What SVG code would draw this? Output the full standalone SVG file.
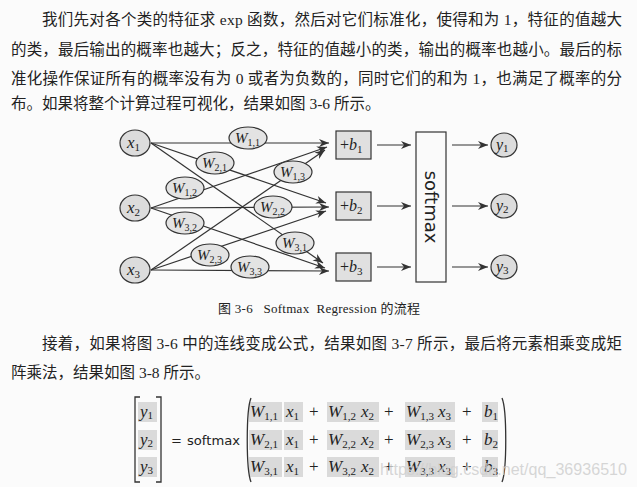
<svg xmlns="http://www.w3.org/2000/svg" width="637" height="487" viewBox="0 0 637 487">
<defs>
<style>
.body{font-family:"Liberation Serif","Noto Sans CJK SC",serif;font-size:15.5px;fill:#222}
.cap{font-family:"Liberation Serif","Noto Sans CJK SC",serif;font-size:13px;fill:#222}
.ln{stroke:#333;stroke-width:1.2;fill:none}
.nd{fill:#dcdcdc;stroke:#333;stroke-width:1.2}
.w{fill:#e3e3e3;stroke:#333;stroke-width:1.2}
.bx{fill:#e0e0e0;stroke:#333;stroke-width:1.2}
.sm{fill:#fafafa;stroke:#333;stroke-width:1.2}
.m{font-family:"Liberation Serif",serif;font-style:italic;fill:#222}
.up{font-style:normal}
.hl{fill:#dadada}
.br{stroke:#333;stroke-width:1.3;fill:none}
.sf{font-family:"DejaVu Sans",sans-serif;fill:#222}
</style>
<marker id="ah" viewBox="0 0 10 8" refX="10" refY="4" markerWidth="11" markerHeight="8" markerUnits="userSpaceOnUse" orient="auto">
<path d="M0,0 L10,4 L0,8 L3,4 z" fill="#333"/>
</marker>
</defs>
<rect width="637" height="487" fill="#fbfbfb"/>

<g id="paragraph1" class="body">
<text x="42" y="25" textLength="580" lengthAdjust="spacing">我们先对各个类的特征求 exp 函数，然后对它们标准化，使得和为 1，特征的值越大</text>
<text x="11" y="55" textLength="611" lengthAdjust="spacing">的类，最后输出的概率也越大；反之，特征的值越小的类，输出的概率也越小。最后的标</text>
<text x="11" y="84" textLength="611" lengthAdjust="spacing">准化操作保证所有的概率没有为 0 或者为负数的，同时它们的和为 1，也满足了概率的分</text>
<text x="11" y="109">布。如果将整个计算过程可视化，结果如图 3-6 所示。</text>
</g>

<g id="connectors">
<path class="ln" marker-end="url(#ah)" d="M151,143 L329,143"/>
<path class="ln" marker-end="url(#ah)" d="M151,143 L326,203"/>
<path class="ln" marker-end="url(#ah)" d="M151,143 L323,263"/>
<path class="ln" marker-end="url(#ah)" d="M151,208 L327,147"/>
<path class="ln" marker-end="url(#ah)" d="M151,208 L329,207"/>
<path class="ln" marker-end="url(#ah)" d="M151,208 L325,268"/>
<path class="ln" marker-end="url(#ah)" d="M151,270 L325,150"/>
<path class="ln" marker-end="url(#ah)" d="M151,270 L326,211"/>
<path class="ln" marker-end="url(#ah)" d="M151,270 L329,271"/>
<path class="ln" marker-end="url(#ah)" d="M377,145 L411,145"/>
<path class="ln" marker-end="url(#ah)" d="M377,206 L411,206"/>
<path class="ln" marker-end="url(#ah)" d="M377,267 L411,267"/>
<path class="ln" marker-end="url(#ah)" d="M452,145 L488,145"/>
<path class="ln" marker-end="url(#ah)" d="M452,206 L488,206"/>
<path class="ln" marker-end="url(#ah)" d="M452,267 L488,267"/>
</g>

<g id="x1"><ellipse class="nd" cx="135" cy="143" rx="15" ry="13"/><text class="m" x="127" y="148" font-size="17">x<tspan class="up" font-size="11" dy="3">1</tspan></text></g>
<g id="x2"><ellipse class="nd" cx="135" cy="208" rx="15" ry="13"/><text class="m" x="127" y="213" font-size="17">x<tspan class="up" font-size="11" dy="3">2</tspan></text></g>
<g id="x3"><ellipse class="nd" cx="135" cy="270" rx="15" ry="13"/><text class="m" x="127" y="275" font-size="17">x<tspan class="up" font-size="11" dy="3">3</tspan></text></g>

<g id="W11"><ellipse class="w" cx="248" cy="138" rx="19" ry="11"/><text class="m" x="235" y="143" font-size="15">W<tspan class="up" font-size="10" dy="3">1,1</tspan></text></g>
<g id="W21"><ellipse class="w" cx="215" cy="163" rx="19" ry="11"/><text class="m" x="202" y="168" font-size="15">W<tspan class="up" font-size="10" dy="3">2,1</tspan></text></g>
<g id="W12"><ellipse class="w" cx="185" cy="188" rx="19" ry="11"/><text class="m" x="172" y="193" font-size="15">W<tspan class="up" font-size="10" dy="3">1,2</tspan></text></g>
<g id="W13"><ellipse class="w" cx="293" cy="172" rx="19" ry="11"/><text class="m" x="280" y="177" font-size="15">W<tspan class="up" font-size="10" dy="3">1,3</tspan></text></g>
<g id="W22"><ellipse class="w" cx="273" cy="207" rx="19" ry="11"/><text class="m" x="260" y="212" font-size="15">W<tspan class="up" font-size="10" dy="3">2,2</tspan></text></g>
<g id="W32"><ellipse class="w" cx="185" cy="223" rx="19" ry="11"/><text class="m" x="172" y="228" font-size="15">W<tspan class="up" font-size="10" dy="3">3,2</tspan></text></g>
<g id="W31"><ellipse class="w" cx="295" cy="243" rx="19" ry="11"/><text class="m" x="282" y="248" font-size="15">W<tspan class="up" font-size="10" dy="3">3,1</tspan></text></g>
<g id="W23"><ellipse class="w" cx="210" cy="255" rx="19" ry="11"/><text class="m" x="197" y="260" font-size="15">W<tspan class="up" font-size="10" dy="3">2,3</tspan></text></g>
<g id="W33"><ellipse class="w" cx="250" cy="267" rx="19" ry="11"/><text class="m" x="237" y="272" font-size="15">W<tspan class="up" font-size="10" dy="3">3,3</tspan></text></g>

<g id="b1"><rect class="bx" x="336" y="131" width="35" height="28"/><text class="m" x="340" y="150" font-size="16"><tspan class="up">+</tspan>b<tspan class="up" font-size="11" dy="3">1</tspan></text></g>
<g id="b2"><rect class="bx" x="336" y="192" width="35" height="28"/><text class="m" x="340" y="211" font-size="16"><tspan class="up">+</tspan>b<tspan class="up" font-size="11" dy="3">2</tspan></text></g>
<g id="b3"><rect class="bx" x="336" y="253" width="35" height="28"/><text class="m" x="340" y="272" font-size="16"><tspan class="up">+</tspan>b<tspan class="up" font-size="11" dy="3">3</tspan></text></g>

<g id="softmax"><rect class="sm" x="416" y="132" width="30" height="150"/><text class="sf" transform="translate(431,207) rotate(90)" text-anchor="middle" dominant-baseline="central" font-size="18">softmax</text></g>

<g id="y1"><ellipse class="nd" cx="504" cy="145" rx="13" ry="12"/><text class="m" x="496" y="150" font-size="16">y<tspan class="up" font-size="11" dy="2">1</tspan></text></g>
<g id="y2"><ellipse class="nd" cx="504" cy="206" rx="13" ry="12"/><text class="m" x="496" y="211" font-size="16">y<tspan class="up" font-size="11" dy="2">2</tspan></text></g>
<g id="y3"><ellipse class="nd" cx="504" cy="267" rx="13" ry="12"/><text class="m" x="496" y="272" font-size="16">y<tspan class="up" font-size="11" dy="2">3</tspan></text></g>

<g id="caption"><text class="cap" x="218" y="313" xml:space="preserve" textLength="202" lengthAdjust="spacing">图 3-6   Softmax  Regression 的流程</text></g>

<g id="paragraph2" class="body">
<text x="42" y="349" textLength="580" lengthAdjust="spacing">接着，如果将图 3-6 中的连线变成公式，结果如图 3-7 所示，最后将元素相乘变成矩</text>
<text x="11" y="378">阵乘法，结果如图 3-8 所示。</text>
</g>

<g id="equation">
<g class="hl">
<rect x="138" y="402" width="19" height="20"/><rect x="138" y="430" width="19" height="20"/><rect x="138" y="457" width="19" height="20"/>
<rect x="249" y="402" width="33" height="20"/><rect x="284" y="402" width="19" height="20"/><rect x="327" y="402" width="32" height="20"/><rect x="359" y="402" width="20" height="20"/><rect x="405" y="402" width="32" height="20"/><rect x="437" y="402" width="18" height="20"/><rect x="482" y="402" width="16" height="20"/>
<rect x="249" y="430" width="33" height="20"/><rect x="284" y="430" width="19" height="20"/><rect x="327" y="430" width="32" height="20"/><rect x="359" y="430" width="20" height="20"/><rect x="405" y="430" width="32" height="20"/><rect x="437" y="430" width="18" height="20"/><rect x="482" y="430" width="16" height="20"/>
<rect x="249" y="457" width="33" height="20"/><rect x="284" y="457" width="19" height="20"/><rect x="327" y="457" width="32" height="20"/><rect x="359" y="457" width="20" height="20"/><rect x="405" y="457" width="32" height="20"/><rect x="437" y="457" width="18" height="20"/><rect x="482" y="457" width="16" height="20"/>
</g>
<path class="br" d="M140,397 L135,397 L135,482 L140,482"/>
<path class="br" d="M156,397 L161,397 L161,482 L156,482"/>
<path class="br" d="M251,398 C246,410 246,470 251,482"/>
<path class="br" d="M502,398 C507,410 507,470 502,482"/>
<text class="m" x="140" y="417" font-size="17">y<tspan class="up" font-size="11" dy="2">1</tspan></text>
<text class="m" x="140" y="445" font-size="17">y<tspan class="up" font-size="11" dy="2">2</tspan></text>
<text class="m" x="140" y="472" font-size="17">y<tspan class="up" font-size="11" dy="2">3</tspan></text>
<text class="sf" x="171" y="445" font-size="13">=<tspan x="187" textLength="53" lengthAdjust="spacingAndGlyphs">softmax</tspan></text>
<g font-size="17">
<text class="m" x="250" y="417">W<tspan class="up" font-size="11" dy="3">1,1</tspan><tspan x="286" dy="-3">x</tspan><tspan class="up" font-size="11" dy="3">1</tspan><tspan class="up" x="309" dy="-3">+</tspan><tspan x="328">W</tspan><tspan class="up" font-size="11" dy="3">1,2</tspan><tspan x="361" dy="-3">x</tspan><tspan class="up" font-size="11" dy="3">2</tspan><tspan class="up" x="384" dy="-3">+</tspan><tspan x="406">W</tspan><tspan class="up" font-size="11" dy="3">1,3</tspan><tspan x="438" dy="-3">x</tspan><tspan class="up" font-size="11" dy="3">3</tspan><tspan class="up" x="462" dy="-3">+</tspan><tspan x="484">b</tspan><tspan class="up" font-size="11" dy="3">1</tspan></text>
<text class="m" x="250" y="445">W<tspan class="up" font-size="11" dy="3">2,1</tspan><tspan x="286" dy="-3">x</tspan><tspan class="up" font-size="11" dy="3">1</tspan><tspan class="up" x="309" dy="-3">+</tspan><tspan x="328">W</tspan><tspan class="up" font-size="11" dy="3">2,2</tspan><tspan x="361" dy="-3">x</tspan><tspan class="up" font-size="11" dy="3">2</tspan><tspan class="up" x="384" dy="-3">+</tspan><tspan x="406">W</tspan><tspan class="up" font-size="11" dy="3">2,3</tspan><tspan x="438" dy="-3">x</tspan><tspan class="up" font-size="11" dy="3">3</tspan><tspan class="up" x="462" dy="-3">+</tspan><tspan x="484">b</tspan><tspan class="up" font-size="11" dy="3">2</tspan></text>
<text class="m" x="250" y="472">W<tspan class="up" font-size="11" dy="3">3,1</tspan><tspan x="286" dy="-3">x</tspan><tspan class="up" font-size="11" dy="3">1</tspan><tspan class="up" x="309" dy="-3">+</tspan><tspan x="328">W</tspan><tspan class="up" font-size="11" dy="3">3,2</tspan><tspan x="361" dy="-3">x</tspan><tspan class="up" font-size="11" dy="3">2</tspan><tspan class="up" x="384" dy="-3">+</tspan><tspan x="406">W</tspan><tspan class="up" font-size="11" dy="3">3,3</tspan><tspan x="438" dy="-3">x</tspan><tspan class="up" font-size="11" dy="3">3</tspan><tspan class="up" x="462" dy="-3">+</tspan><tspan x="484">b</tspan><tspan class="up" font-size="11" dy="3">3</tspan></text>
</g>
</g>

<g id="watermark"><text x="380" y="475" textLength="247" lengthAdjust="spacingAndGlyphs" font-family="Liberation Sans,sans-serif" font-size="17" fill="#cfcfcf" fill-opacity="0.85">https://blog.csdn.net/qq_36936510</text></g>
</svg>
